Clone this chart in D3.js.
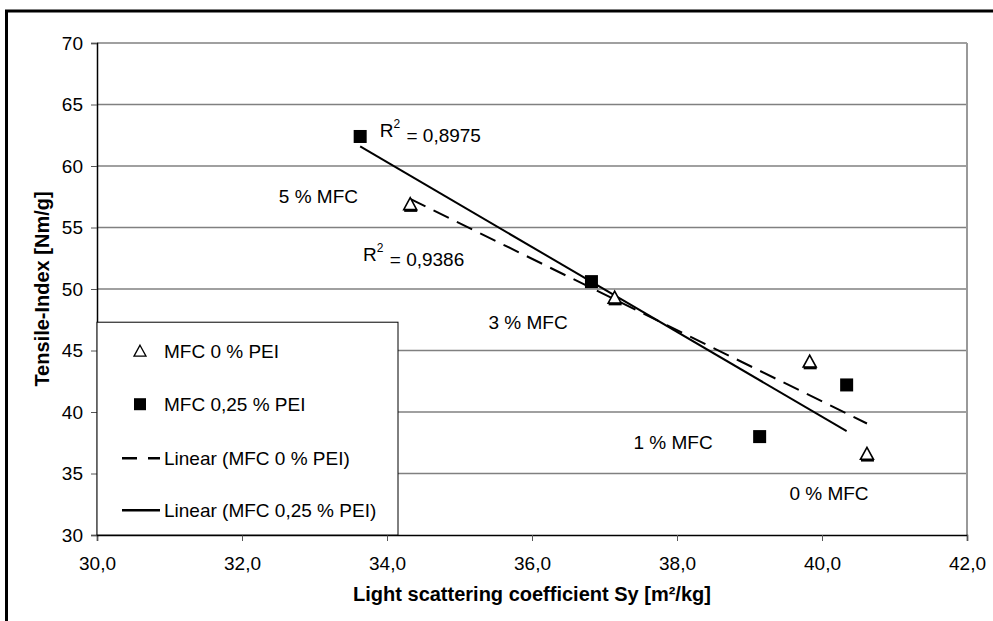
<!DOCTYPE html>
<html>
<head>
<meta charset="utf-8">
<script src="https://cdn.jsdelivr.net/npm/d3@7"></script>
<style>
  body { margin: 0; background: #fff; }
  svg { display: block; font-family: Arial, "Liberation Sans", sans-serif; }
</style>
</head>
<body>
<svg id="chart" width="993" height="621"></svg>
<script>
// data
const seriesNames = ['MFC 0 % PEI', 'MFC 0,25 % PEI'];
const trendNames = ['Linear (MFC 0 % PEI)', 'Linear (MFC 0,25 % PEI)'];
const sy0 = [34.32, 37.14, 39.83, 40.62];
const ti0 = [56.9, 49.3, 44.1, 36.6];
const sy25 = [33.63, 36.82, 39.14, 40.34];
const ti25 = [62.4, 50.6, 38.0, 42.2];
const xTicks = [30, 32, 34, 36, 38, 40, 42];
const yTicks = [30, 35, 40, 45, 50, 55, 60, 65, 70];
const mfcLabels = ['5 % MFC', '3 % MFC', '1 % MFC', '0 % MFC'];
const mfcLabelX = [33.6, 35.4, 37.4, 39.55];
const mfcLabelY = [57.5, 47.3, 37.5, 33.4];
const r2Labels = ['0,9386', '0,8975'];
const r2LabelX = [33.67, 33.9];
const r2LabelY = [52.85, 62.9];

const svg = d3.select('#chart');
const margin = { top: 43, right: 26, bottom: 86, left: 97 };
const width = 993 - margin.left - margin.right;
const height = 621 - margin.top - margin.bottom;
const fs = '19px';

// outer frame (runs off the right and bottom edge)
svg.append('rect')
  .attr('x', 6.5).attr('y', 11)
  .attr('width', 1100).attr('height', 800)
  .attr('fill', 'none').attr('stroke', '#000').attr('stroke-width', 3);

const g = svg.append('g').attr('transform', `translate(${margin.left},${margin.top})`);

const x = d3.scaleLinear().domain([30, 42]).range([0, width]);
const y = d3.scaleLinear().domain([30, 70]).range([height, 0]);

const comma = d3.formatLocale({ decimal: ',', thousands: '.', grouping: [3], currency: ['', ''] });

// gridlines
g.append('g')
  .selectAll('line')
  .data(yTicks.slice(1))
  .enter().append('line')
  .attr('x1', 0).attr('x2', width)
  .attr('y1', d => y(d)).attr('y2', d => y(d))
  .attr('stroke', '#808080').attr('stroke-width', 1.5);

// right edge of plot area
g.append('line')
  .attr('x1', width).attr('x2', width).attr('y1', 0).attr('y2', height)
  .attr('stroke', '#999').attr('stroke-width', 2);

// axes
const xAxis = g.append('g')
  .attr('transform', `translate(0,${height})`)
  .call(d3.axisBottom(x).tickValues(xTicks).tickSize(6).tickPadding(16).tickFormat(comma.format('.1f')));
const yAxis = g.append('g')
  .call(d3.axisLeft(y).tickValues(yTicks).tickSize(6).tickPadding(8).tickFormat(d3.format('d')));

[xAxis, yAxis].forEach(a => {
  a.select('.domain').attr('stroke', '#000').attr('stroke-width', 1.5);
  a.selectAll('.tick line').attr('stroke', '#555').attr('stroke-width', 1);
  a.selectAll('.tick text').attr('fill', '#000').style('font-size', fs).style('font-family', 'Arial, "Liberation Sans", sans-serif');
});

// axis titles
svg.append('text')
  .attr('x', margin.left + width / 2).attr('y', 601)
  .attr('text-anchor', 'middle')
  .style('font-size', '20px').style('font-weight', 'bold')
  .text('Light scattering coefficient Sy [m²/kg]');
svg.append('text')
  .attr('transform', `translate(49,${margin.top + height / 2}) rotate(-90)`)
  .attr('text-anchor', 'middle')
  .style('font-size', '20px').style('font-weight', 'bold')
  .text('Tensile-Index [Nm/g]');

// linear trend lines (least squares), from min x to max x
function fit(xs, ys) {
  const mx = d3.mean(xs), my = d3.mean(ys);
  const sxy = d3.sum(xs, (v, i) => (v - mx) * (ys[i] - my));
  const sxx = d3.sum(xs, v => (v - mx) * (v - mx));
  const b = sxy / sxx;
  const a = my - b * mx;
  const [x0, x1] = d3.extent(xs);
  return [[x0, a + b * x0], [x1, a + b * x1]];
}
const line = d3.line().x(d => x(d[0])).y(d => y(d[1]));

g.append('path')
  .attr('d', line(fit(sy0, ti0)))
  .attr('fill', 'none').attr('stroke', '#000').attr('stroke-width', 2)
  .attr('stroke-dasharray', '17,9');
g.append('path')
  .attr('d', line(fit(sy25, ti25)))
  .attr('fill', 'none').attr('stroke', '#000').attr('stroke-width', 2);

// markers
const tri = 'M0,-6.5L6.5,5.5L-6.5,5.5Z';
const triG = g.append('g');
sy0.forEach((v, i) => {
  const m = triG.append('g').attr('transform', `translate(${x(v)},${y(ti0[i])})`);
  m.append('path').attr('d', tri).attr('fill', '#fff').attr('stroke', '#000').attr('stroke-width', 1.6);
  m.append('line').attr('x1', -6).attr('x2', 7).attr('y1', 6.5).attr('y2', 6.5)
    .attr('stroke', '#000').attr('stroke-width', 2.5);
});
g.append('g')
  .selectAll('rect')
  .data(sy25.map((v, i) => [v, ti25[i]]))
  .enter().append('rect')
  .attr('x', d => x(d[0]) - 6.5).attr('y', d => y(d[1]) - 6.5)
  .attr('width', 13).attr('height', 13)
  .attr('fill', '#000');

// annotations
g.append('g')
  .selectAll('text')
  .data(mfcLabels)
  .enter().append('text')
  .attr('x', (d, i) => x(mfcLabelX[i])).attr('y', (d, i) => y(mfcLabelY[i]))
  .attr('dy', '0.35em')
  .attr('text-anchor', (d, i) => i === 0 ? 'end' : 'start')
  .style('font-size', fs)
  .text(d => d);

r2Labels.forEach((t, i) => {
  const txt = g.append('text')
    .attr('x', x(r2LabelX[i])).attr('y', y(r2LabelY[i]))
    .attr('dy', '0.35em')
    .style('font-size', fs);
  txt.append('tspan').text('R');
  txt.append('tspan').attr('dy', '-0.75em').style('font-size', '12px').text('2');
  txt.append('tspan').attr('dy', '0.75em').attr('dx', '1').text(' = ' + t);
});

// legend
const lg = g.append('g').attr('transform', `translate(0,${y(47.3)})`);
const lgW = 301, lgH = height - y(47.3);
lg.append('rect')
  .attr('width', lgW).attr('height', lgH)
  .attr('fill', '#fff').attr('stroke', '#000').attr('stroke-width', 1);
const rowY = [29, 82, 136, 188];
const legendItems = [seriesNames[0], seriesNames[1], trendNames[0], trendNames[1]];
legendItems.forEach((name, i) => {
  const row = lg.append('g').attr('transform', `translate(0,${rowY[i]})`);
  if (i === 0) {
    row.append('path').attr('d', 'M43,-6L49,5L37,5Z').attr('fill', '#fff').attr('stroke', '#000').attr('stroke-width', 1.3);
  } else if (i === 1) {
    row.append('rect').attr('x', 37).attr('y', -6).attr('width', 12).attr('height', 12).attr('fill', '#000');
  } else {
    row.append('line').attr('x1', 25).attr('x2', 63).attr('y1', 0).attr('y2', 0)
      .attr('stroke', '#000').attr('stroke-width', 2.5)
      .attr('stroke-dasharray', i === 2 ? '15,11' : null);
  }
  row.append('text').attr('x', 67).attr('dy', '0.35em').style('font-size', fs).text(name);
});
</script>
</body>
</html>
